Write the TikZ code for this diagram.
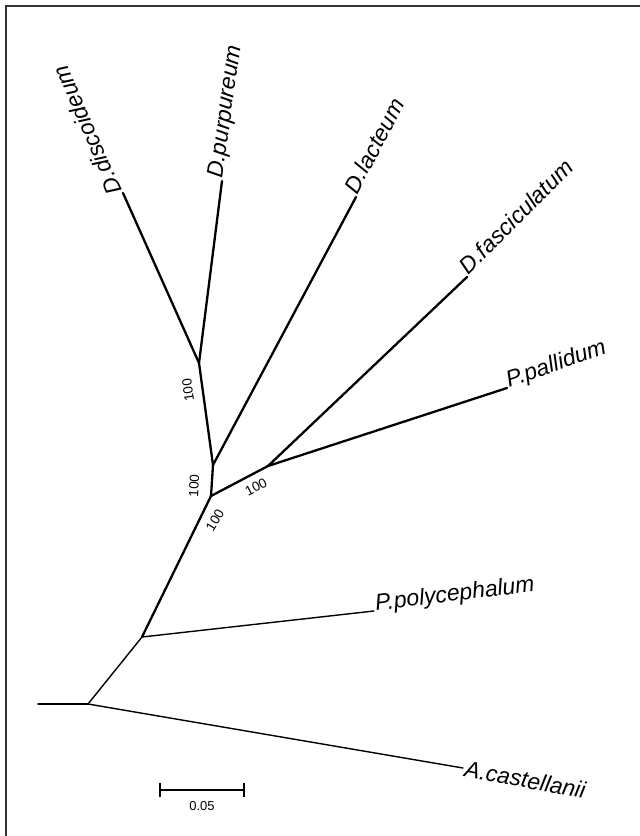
\documentclass[tikz,border=0pt]{standalone}
\usepackage{fontspec}
\setmainfont{Liberation Sans}
\begin{document}
\begin{tikzpicture}[x=1bp,y=-1bp,
  br/.style={line width=2.3bp, line cap=round, line join=round},
  lowbr/.style={line width=1.4bp, line cap=round, line join=round},
  taxon/.style={font=\fontsize{23}{26}\selectfont\itshape, inner sep=2bp, anchor=base west},
  boot/.style={font=\fontsize{13.5}{15}\selectfont, inner sep=0bp},
  framecol/.style={draw=black!80, line width=2bp}]
\useasboundingbox (0,0) rectangle (640,836);
% frame (top and left)
\draw[framecol] (640,6) -- (6,6) -- (6,836);
% internal nodes
\coordinate (S) at (38,704);
\coordinate (R) at (88,704);
\coordinate (Q) at (142,637);
\coordinate (X) at (211,496);
\coordinate (Z) at (213,465);
\coordinate (W) at (199,363);
\coordinate (Y) at (268,466);
% tips
\coordinate (tdis) at (123,193);
\coordinate (tpur) at (222,181);
\coordinate (tlac) at (356,197);
\coordinate (tfas) at (467,277);
\coordinate (tpal) at (507,388);
\coordinate (tpoly) at (374,611);
\coordinate (tcas) at (463,768);
% labels
\node[taxon, rotate=113.5] (ldis) at (tdis) {D.discoideum};
\node[taxon, rotate=82] (lpur) at (tpur) {D.purpureum};
\node[taxon, rotate=62] (llac) at (tlac) {D.lacteum};
\node[taxon, rotate=45] (lfas) at (tfas) {D.fasciculatum};
\node[taxon, rotate=19] (lpal) at (tpal) {P.pallidum};
\node[taxon, rotate=7] (lpoly) at (tpoly) {P.polycephalum};
\node[taxon, anchor=west, rotate=-10.5] (lcas) at (tcas) {A.castellanii};
% branches
\draw[lowbr] (S) -- (R);
\draw[lowbr] (R) -- (tcas);
\draw[lowbr] (R) -- (Q);
\draw[lowbr] (Q) -- (tpoly);
\draw[br] (Q) -- (X);
\draw[br] (X) -- (Z);
\draw[br] (Z) -- (W);
\draw[br] (W) -- (tdis);
\draw[br] (W) -- (tpur);
\draw[br] (Z) -- (tlac);
\draw[br] (X) -- (Y);
\draw[br] (Y) -- (tfas);
\draw[br] (Y) -- (tpal);
% bootstrap values
\node[boot, rotate=98] (b1) at (188,390) {100};
\node[boot, rotate=87] (b2) at (194,486) {100};
\node[boot, rotate=27] (b3) at (256,487) {100};
\node[boot, rotate=59] (b4) at (215,520) {100};
% scale bar
\coordinate (sa) at (160,790);
\coordinate (sb) at (244,790);
\draw[line width=1.5bp] (sa) -- (sb);
\draw[line width=1.5bp] ([yshift=-7bp]sa) -- ([yshift=7bp]sa);
\draw[line width=1.5bp] ([yshift=-7bp]sb) -- ([yshift=7bp]sb);
\node[boot, font=\fontsize{13}{15}\selectfont] (scl) at (202,806) {0.05};
\end{tikzpicture}
\end{document}
